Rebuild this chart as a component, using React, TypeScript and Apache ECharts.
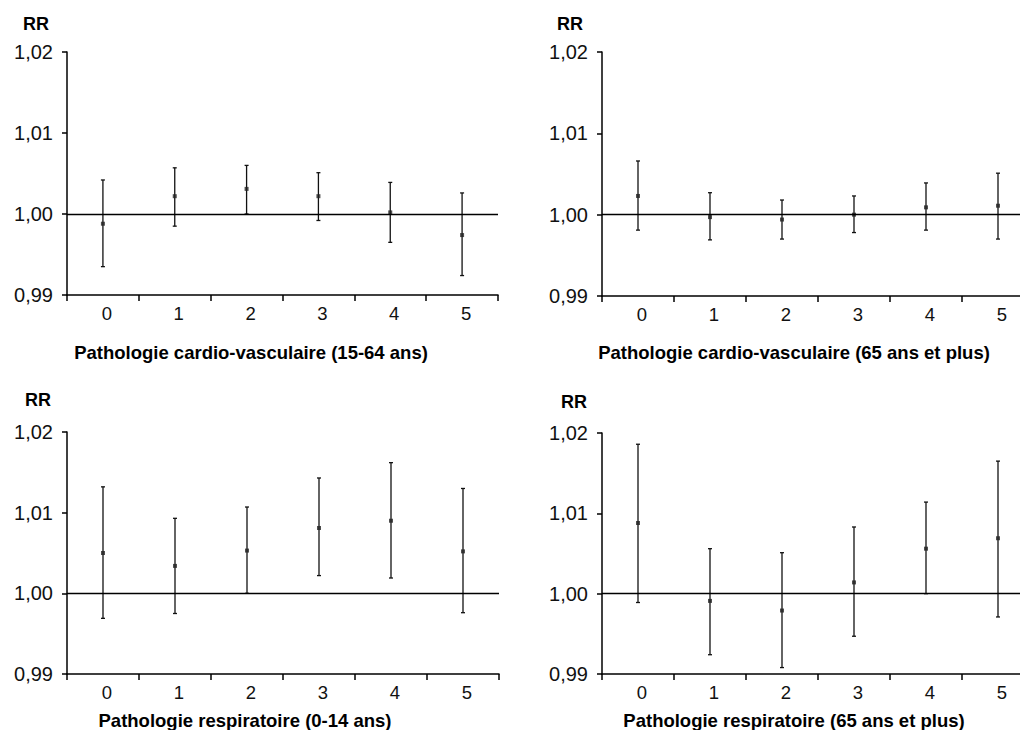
import React, { useEffect, useRef } from "react";
import * as echarts from "echarts";

const categories = ["0", "1", "2", "3", "4", "5"];
const yTicks = [0.99, 1.0, 1.01, 1.02];

const titles = [
  "Pathologie cardio-vasculaire (15-64 ans)",
  "Pathologie cardio-vasculaire (65 ans et plus)",
  "Pathologie respiratoire (0-14 ans)",
  "Pathologie respiratoire (65 ans et plus)",
];

// Panel 1: cardio-vasculaire 15-64
const cv1564RR = [0.9988, 1.0022, 1.0031, 1.0022, 1.0002, 0.9974];
const cv1564Low = [0.9935, 0.9985, 1.0, 0.9992, 0.9965, 0.9924];
const cv1564High = [1.0042, 1.0057, 1.006, 1.0051, 1.0039, 1.0026];

// Panel 2: cardio-vasculaire 65+
const cv65RR = [1.0023, 0.9997, 0.9994, 1.0, 1.0009, 1.0011];
const cv65Low = [0.9981, 0.9969, 0.997, 0.9978, 0.9981, 0.997];
const cv65High = [1.0066, 1.0027, 1.0018, 1.0023, 1.0039, 1.0051];

// Panel 3: respiratoire 0-14
const resp014RR = [1.005, 1.0034, 1.0053, 1.0081, 1.009, 1.0052];
const resp014Low = [0.9969, 0.9975, 1.0, 1.0022, 1.0019, 0.9976];
const resp014High = [1.0132, 1.0093, 1.0107, 1.0143, 1.0162, 1.013];

// Panel 4: respiratoire 65+
const resp65RR = [1.0088, 0.9991, 0.9979, 1.0014, 1.0056, 1.0069];
const resp65Low = [0.9989, 0.9924, 0.9908, 0.9947, 1.0, 0.9971];
const resp65High = [1.0186, 1.0056, 1.0051, 1.0083, 1.0114, 1.0165];

const panels = [
  { rr: cv1564RR, low: cv1564Low, high: cv1564High },
  { rr: cv65RR, low: cv65Low, high: cv65High },
  { rr: resp014RR, low: resp014Low, high: resp014High },
  { rr: resp65RR, low: resp65Low, high: resp65High },
];

const FONT = "'Liberation Sans', Arial, Helvetica, sans-serif";

const grids = [
  { left: 67, top: 52, width: 431, height: 243 },
  { left: 602, top: 52, width: 432, height: 244 },
  { left: 67, top: 432, width: 432, height: 242 },
  { left: 602, top: 433, width: 432, height: 241 },
];

const rrPos = [
  [36, 24],
  [570, 24],
  [38, 400],
  [574, 402],
];
const titlePos = [
  [251, 352],
  [794, 352],
  [245, 720],
  [794, 720],
];

export default function App() {
  const ref = useRef<HTMLDivElement>(null);
  useEffect(() => {
    if (!ref.current) return;
    const chart = echarts.init(ref.current, null, { renderer: "svg" });
    const axisLineStyle = { color: "#000", width: 1.5 };

    const xAxis = grids.map((_, i) => ({
      type: "category",
      gridIndex: i,
      data: categories,
      boundaryGap: true,
      axisLine: { show: true, onZero: false, lineStyle: axisLineStyle },
      axisTick: { show: true, length: 6, lineStyle: axisLineStyle },
      axisLabel: {
        fontSize: 18.5,
        fontFamily: FONT,
        color: "#111",
        margin: 9,
        padding: [0, 0, 0, 8],
      },
      splitLine: { show: false },
    }));

    const yAxis = grids.map((_, i) => ({
      type: "value",
      gridIndex: i,
      min: yTicks[0],
      max: yTicks[yTicks.length - 1],
      interval: 0.01,
      axisLine: { show: true, lineStyle: axisLineStyle },
      axisTick: { show: true, length: 5, lineStyle: axisLineStyle },
      axisLabel: {
        fontSize: 20,
        fontFamily: FONT,
        color: "#111",
        margin: 14,
        padding: [0, 0, 7, 0],
        formatter: (v: number) => v.toFixed(2).replace(".", ","),
      },
      splitLine: { show: false },
    }));

    const series: any[] = [];
    panels.forEach((p, i) => {
      series.push({
        type: "custom",
        xAxisIndex: i,
        yAxisIndex: i,
        data: categories.map((_, k) => [k, p.low[k], p.high[k]]),
        encode: { x: 0, y: [1, 2] },
        renderItem: (params: any, api: any) => {
          const x = api.value(0);
          const lo = api.coord([x, api.value(1)]);
          const hi = api.coord([x, api.value(2)]);
          const cap = 2;
          const style = { stroke: "#111", lineWidth: 1.3 };
          return {
            type: "group",
            children: [
              { type: "line", shape: { x1: lo[0], y1: lo[1], x2: hi[0], y2: hi[1] }, style },
              { type: "line", shape: { x1: hi[0] - cap, y1: hi[1], x2: hi[0] + cap, y2: hi[1] }, style },
              { type: "line", shape: { x1: lo[0] - cap, y1: lo[1], x2: lo[0] + cap, y2: lo[1] }, style },
            ],
          };
        },
        z: 3,
      });
      series.push({
        type: "scatter",
        xAxisIndex: i,
        yAxisIndex: i,
        data: p.rr,
        symbol: "rect",
        symbolSize: 4,
        itemStyle: { color: "#222" },
        z: 4,
        markLine: {
          silent: true,
          symbol: ["none", "none"],
          label: { show: false },
          lineStyle: { color: "#000", width: 1.3, type: "solid" },
          data: [{ yAxis: 1 }],
        },
      });
    });

    const graphics: any[] = [];
    rrPos.forEach(([x, y]) => {
      graphics.push({
        type: "text",
        x,
        y,
        style: {
          text: "RR",
          font: `bold 18px ${FONT}`,
          fill: "#000",
          align: "center",
          verticalAlign: "middle",
        },
      });
    });
    titlePos.forEach(([x, y], i) => {
      graphics.push({
        type: "text",
        x,
        y,
        style: {
          text: titles[i],
          font: `bold 18.5px ${FONT}`,
          fill: "#000",
          align: "center",
          verticalAlign: "middle",
        },
      });
    });

    chart.setOption({
      animation: false,
      backgroundColor: "#fff",
      grid: grids.map((g) => ({ ...g, containLabel: false, outerBoundsMode: "none" })),
      xAxis,
      yAxis,
      series,
      graphic: graphics,
    });
    return () => chart.dispose();
  }, []);
  return (
    <div
      ref={ref}
      style={{ position: "absolute", left: 0, top: 0, width: 1020, height: 730 }}
    />
  );
}
